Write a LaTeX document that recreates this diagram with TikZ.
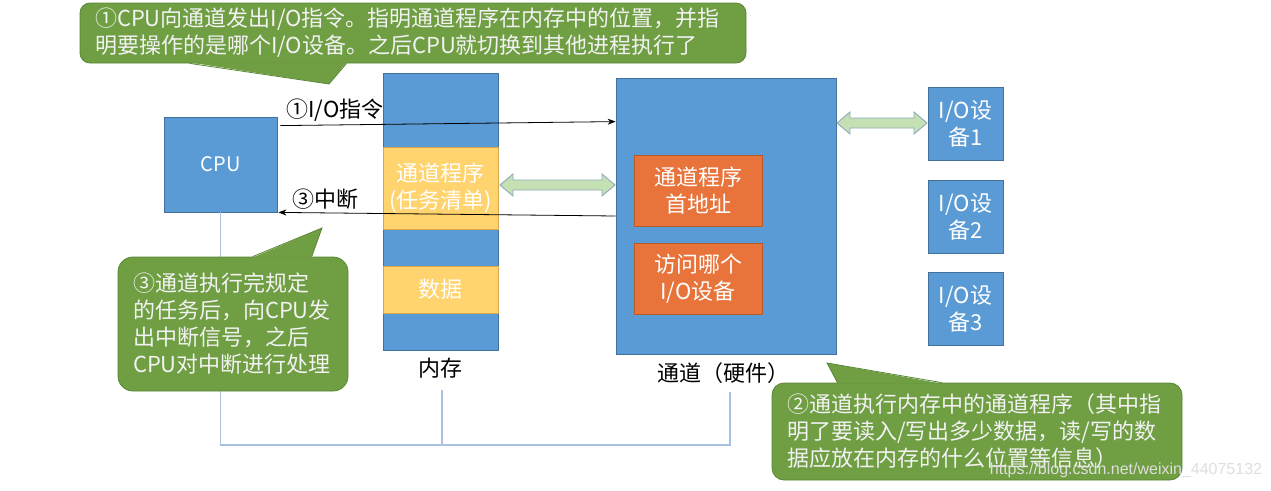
\documentclass[tikz,border=0pt]{standalone}
\usepackage{fontspec}
\setmainfont{Noto Sans CJK SC}
\newfontfamily\wmfont{Liberation Sans}
\usetikzlibrary{arrows.meta,calc}
\definecolor{boxblue}{HTML}{5B9BD5}
\definecolor{boxblueline}{HTML}{41719C}
\definecolor{progyellow}{HTML}{FFD36E}
\definecolor{progyellowline}{HTML}{D6A84A}
\definecolor{addrorange}{HTML}{E8743B}
\definecolor{addrorangeline}{HTML}{B85A26}
\definecolor{notegreen}{HTML}{6F9E43}
\definecolor{notegreenline}{HTML}{5A8636}
\definecolor{linkgreen}{HTML}{C5E0B3}
\definecolor{linkgreenline}{HTML}{8EA9BF}
\definecolor{busblue}{HTML}{A9C2E2}
% #1 left x, #2 right x, #3 y
\newcommand{\dblink}[3]{%
	\draw[link] (#1,#3) -- ({#1+13},{#3-11}) -- ({#1+13},{#3-5}) -- ({#2-13},{#3-5}) -- ({#2-13},{#3-11})
		-- (#2,#3) -- ({#2-13},{#3+11}) -- ({#2-13},{#3+5}) -- ({#1+13},{#3+5}) -- ({#1+13},{#3+11}) -- cycle;}

\begin{document}
\begin{tikzpicture}[x=1pt,y=-1pt,
	font=\fontsize{22}{27}\selectfont,
	blk/.style={draw=boxblueline,fill=boxblue,line width=0.8pt,text=white,inner sep=0pt,align=center},
	prog/.style={draw=progyellowline,fill=progyellow,line width=0.8pt,text=white,inner sep=0pt,align=center,minimum width=115pt},
	addr/.style={draw=addrorangeline,fill=addrorange,line width=0.8pt,text=white,inner sep=0pt,align=center,minimum width=128pt,minimum height=71pt},
	iodev/.style={blk,minimum width=75pt,minimum height=73pt},
	note/.style={draw=notegreenline,fill=notegreen,line width=0.8pt,text=white!95!black,inner xsep=0pt,align=left},
	link/.style={draw=linkgreenline,fill=linkgreen,line width=0.9pt},
	sig/.style={line width=0.8pt,-{Stealth[length=8pt,width=6pt]}},
	bus/.style={draw=busblue,line width=1.2pt}]
	\useasboundingbox (0,0) rectangle (1271,490);

	\node[blk,minimum width=113pt,minimum height=95pt,font=\fontsize{20}{24}\selectfont] (cpu) at (220.5,164.5) {CPU};
	\node[blk,minimum width=115pt,minimum height=277pt] (mem) at (440.5,211.5) {};
	\node[prog,minimum height=82pt] (prog) at (440.5,188) {通道程序\\(任务清单)};
	\node[prog,minimum height=47pt] (data) at (440.5,289.5) {数据};
	\node (memlbl) at (440,368) {内存};

	\node[blk,minimum width=220pt,minimum height=276pt] (chan) at (726,216) {};
	\node[addr] (addr) at (698,190.5) {通道程序\\首地址};
	\node[addr] (which) at (698,278.5) {访问哪个\\I/O设备};
	\node (chanlbl) at (723,373) {通道（硬件）};

	\node[iodev] (io1) at (965.5,123.5) {I/O设\\备1};
	\node[iodev] (io2) at (965.5,216.5) {I/O设\\备2};
	\node[iodev] (io3) at (965.5,308.5) {I/O设\\备3};

	\dblink{500}{615}{185}
	\dblink{837}{927}{123}

	\draw[sig] ($(cpu.north east)+(3,9)$) -- ($(chan.north west)+(0,44)$);
	\node (lblio) at (335,110) {①I/O指令};
	\draw[sig] (chan.west) -- ($(cpu.south east)+(1,0)$);
	\node (lblint) at (325,199) {③中断};

	\coordinate (busM) at (442,445);
	\coordinate (busR) at (730,445);
	\draw[bus] (cpu.south) |- (busR) -- ++(0,-53);
	\draw[bus] (busM) -- ++(0,-55);

	\node[note,rounded corners=10pt,minimum width=666pt,minimum height=60pt,text width=636pt] (note1) at (413,33)
		{\raisebox{-2pt}{①CPU向通道发出I/O指令。指明通道程序在内存中的位置，并指}\\\raisebox{-2pt}{明要操作的是哪个I/O设备。之后CPU就切换到其他进程执行了}};
	\coordinate (tip1) at (329,84);
	\fill[notegreen] ($(note1.south west)+(110,-1)$) -- (tip1) -- ($(note1.south west)+(267,-1)$) -- cycle;
	\draw[notegreenline,line width=0.8pt] ($(note1.south west)+(110,0)$) -- (tip1) -- ($(note1.south west)+(267,0)$);

	\node[note,rounded corners=15pt,minimum width=230pt,minimum height=134pt,text width=200pt] (note3) at (233,324)
		{③通道执行完规定\\的任务后，向CPU发\\出中断信号，之后\\CPU对中断进行处理};
	\coordinate (tip3) at (322,228);
	\fill[notegreen] ($(note3.north west)+(135,1)$) -- (tip3) -- ($(note3.north west)+(194,1)$) -- cycle;
	\draw[notegreenline,line width=0.8pt] ($(note3.north west)+(135,0)$) -- (tip3) -- ($(note3.north west)+(194,0)$);

	\node[note,rounded corners=12pt,minimum width=410pt,minimum height=97pt,text width=380pt] (note2) at (977,431.5)
		{②通道执行内存中的通道程序（其中指\\明了要读入/写出多少数据，读/写的数\\据应放在内存的什么位置等信息）};
	\coordinate (tip2) at (827,363);
	\fill[notegreen] ($(note2.north west)+(66,1)$) -- (tip2) -- ($(note2.north west)+(170,1)$) -- cycle;
	\draw[notegreenline,line width=0.8pt] ($(note2.north west)+(66,0)$) -- (tip2) -- ($(note2.north west)+(170,0)$);

	\node[font=\wmfont\fontsize{16}{16}\selectfont,text=black!13] (wm) at (1126,470) {https://blog.csdn.net/weixin\_44075132};
\end{tikzpicture}
\end{document}
